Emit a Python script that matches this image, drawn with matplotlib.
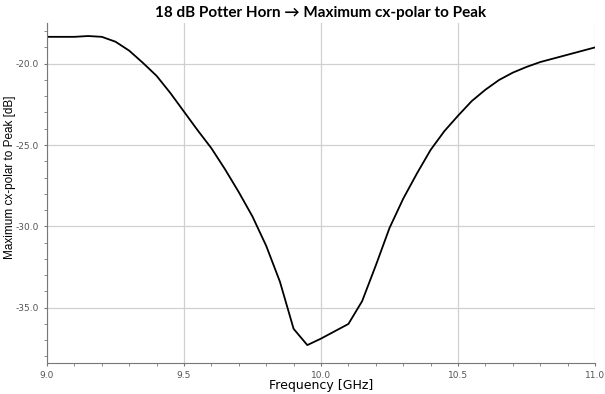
import matplotlib
matplotlib.use('Agg')
import matplotlib.pyplot as plt
from matplotlib.ticker import MultipleLocator, FormatStrFormatter

# Frequency [GHz] and cx-polar level [dB]
freq = [9.0, 9.1, 9.15, 9.2, 9.25, 9.3, 9.35, 9.4, 9.45, 9.5, 9.55, 9.6,
        9.65, 9.7, 9.75, 9.8, 9.85, 9.9, 9.95, 10.0, 10.05, 10.1, 10.15,
        10.2, 10.25, 10.3, 10.35, 10.4, 10.45, 10.5, 10.55, 10.6, 10.65,
        10.7, 10.75, 10.8, 10.9, 11.0]
xpol = [-18.35, -18.35, -18.3, -18.35, -18.65, -19.2, -19.95, -20.75, -21.8,
        -22.95, -24.1, -25.2, -26.5, -27.9, -29.4, -31.2, -33.4, -36.3,
        -37.3, -36.9, -36.45, -36.0, -34.6, -32.4, -30.1, -28.3, -26.75,
        -25.3, -24.15, -23.2, -22.3, -21.6, -21.0, -20.55, -20.2, -19.9,
        -19.45, -19.0]

fig = plt.figure(figsize=(6.05, 3.94), dpi=100)
ax = fig.add_axes([0.0777, 0.0787, 0.9058, 0.8629])

ax.plot(freq, xpol, color='black', linewidth=1.3)

ax.set_xlim(9.0, 11.0)
ax.set_ylim(-38.4, -17.5)
ax.xaxis.set_major_locator(MultipleLocator(0.5))
ax.xaxis.set_minor_locator(MultipleLocator(0.1))
ax.yaxis.set_major_locator(MultipleLocator(5))
ax.yaxis.set_minor_locator(MultipleLocator(1))
ax.xaxis.set_major_formatter(FormatStrFormatter('%.1f'))
ax.yaxis.set_major_formatter(FormatStrFormatter('%.1f'))

ax.grid(True, which='major', color='#d0d0d0', linewidth=0.9)
ax.set_axisbelow(True)
for s in ['top', 'right']:
    ax.spines[s].set_visible(False)
for s in ['left', 'bottom']:
    ax.spines[s].set_color('#777777')
ax.tick_params(which='both', colors='#777777', labelcolor='#555555',
               labelsize=6.5, direction='out', pad=3.5)
ax.tick_params(which='major', length=2.5)
ax.tick_params(which='minor', length=2.5)

ax.set_xlabel('Frequency [GHz]', fontsize=9)
ax.xaxis.set_label_coords(0.5, -0.047)
ax.set_ylabel('Maximum cx-polar to Peak [dB]', fontsize=8.5,
              family=['Liberation Sans', 'DejaVu Sans'])
ax.yaxis.set_label_coords(-0.0566, 0.547)
ax.set_title('18 dB Potter Horn \u2192 Maximum cx-polar to Peak',
             fontsize=11, fontweight='bold', family=['Lato', 'DejaVu Sans'],
             pad=4)

plt.savefig('out.png', dpi=100)
